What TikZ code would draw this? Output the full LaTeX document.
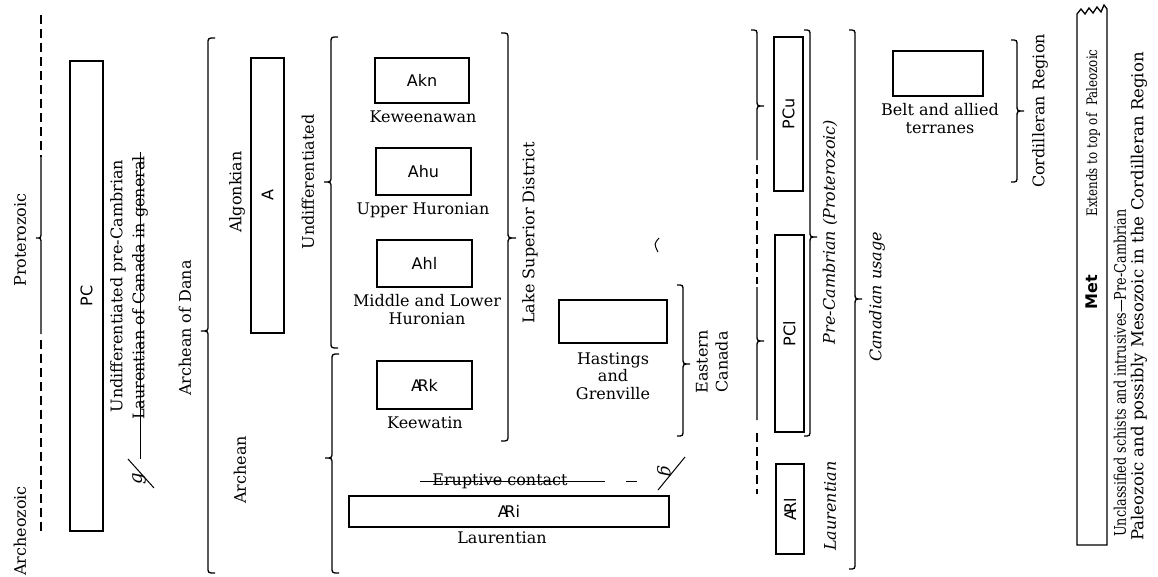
\documentclass[tikz,border=0pt]{standalone}
\usepackage{fontspec}
\setmainfont{DejaVu Serif}
\newfontfamily\labfont{DejaVu Sans}
\newcommand\AR{A\kern-0.28em R}
% brace: x, top y, tip y, bottom y, top hook, bottom hook, tip depth (signed, + = left)
\newcommand\mybrace[7]{%
  \draw[bl] ({#1+(#5)},#2) .. controls (#1,#2) .. (#1,{#2+6}) -- (#1,{#3-6})
    .. controls (#1,#3) .. ({#1-(#7)},#3) .. controls (#1,#3) .. (#1,{#3+6})
    -- (#1,{#4-6}) .. controls (#1,#4) .. ({#1+(#6)},#4);}
\begin{document}
\begin{tikzpicture}[x=1pt,y=-1pt,
  txt/.style={inner sep=0pt, font=\fontsize{16}{18}\selectfont},
  vtxt/.style={txt, rotate=90},
  itxt/.style={inner sep=0pt, rotate=90, font=\fontsize{16}{18}\selectfont\itshape},
  box/.style={draw, line width=1.3pt, inner sep=0pt},
  lab/.style={inner sep=0pt, font=\labfont\fontsize{16}{17}\selectfont},
  bl/.style={line width=1.3pt},
  dl/.style={line width=1.3pt, dash pattern=on 9pt off 5pt},
  strike/.style={line width=1pt},
]
\useasboundingbox (0,0) rectangle (1158,576);
% ---------------- column 1
\node[vtxt] (prot) at (20,240) {Proterozoic};
\node[vtxt] (archz) at (20,531) {Archeozoic};
\draw[dl] (41,15) -- (41,157);
\mybrace{41}{157}{238}{334}{0}{0}{5}
\draw[dl] (41,340) -- (41,531);
\node[box, minimum width=33pt, minimum height=470pt] (pc) at (86.5,296) {};
\node[lab, rotate=90] at (pc.center) {PC};
\node[vtxt] (upc) at (118,286) {Undifferentiated pre-Cambrian};
\node[vtxt] (lcg) at (140,288) {Laurentian of Canada in general};
\coordinate (lcgA) at (140,152);
\coordinate (lcgB) at (140,459);
\draw[strike] (lcgA) -- (lcgB);
\node[inner sep=0pt, rotate=90, font=\fontsize{18}{18}\selectfont\itshape] (dele1) at (139,479) {g};
\coordinate (d1a) at (128,459);
\coordinate (d1b) at (154,488);
\draw[strike] (d1a) -- (d1b);
\node[vtxt] (dana) at (185,328) {Archean of Dana};
\mybrace{208}{38}{331}{573}{7}{7}{7}
% ---------------- column 2
\node[vtxt] (algk) at (237,192) {Algonkian};
\node[box, minimum width=33pt, minimum height=275pt] (abox) at (267.5,195.5) {};
\node[lab, rotate=90] at (abox.center) {A};
\node[vtxt] (archn) at (240,470) {Archean};
\node[vtxt] (undif) at (308,182) {Undifferentiated};
\mybrace{331}{37}{182}{348}{7}{7}{7}
\mybrace{332}{354}{458}{573}{7}{7}{7}
% ---------------- Lake Superior
\node[box, minimum width=94pt, minimum height=45pt] (akn) at (422,80.5) {};
\node[lab] at (akn.center) {Akn};
\node[txt] (kew) at (423,117) {Keweenawan};
\node[box, minimum width=95pt, minimum height=47pt] (ahu) at (423.5,171.5) {};
\node[lab] at (ahu.center) {Ahu};
\node[txt] (uhur) at (423,210) {Upper Huronian};
\node[box, minimum width=95pt, minimum height=47pt] (ahl) at (424.5,263.5) {};
\node[lab] at (ahl.center) {Ahl};
\node[txt, align=center] (mlh) at (427,310) {Middle and Lower\\Huronian};
\node[box, minimum width=95pt, minimum height=48pt] (ark) at (424.5,385) {};
\node[lab] at (ark.center) {\AR k};
\node[txt] (keew) at (425,423) {Keewatin};
\mybrace{508}{33}{238}{441}{-7}{-7}{-8}
\node[vtxt] (lsd) at (530,233) {Lake Superior District};
% ---------------- Eastern Canada
\node[box, minimum width=108pt, minimum height=43pt] (hast) at (613,321.5) {};
\node[txt, align=center, font=\fontsize{16}{17.5}\selectfont] (hg) at (613,376) {Hastings\\and\\Grenville};
\mybrace{683}{285}{364}{436}{-6}{-6}{-7}
\node[vtxt, align=center, font=\fontsize{16}{20}\selectfont] (ec) at (712,362) {Eastern\\Canada};
\draw[line width=1pt] (659,238) .. controls (654,244) .. (658,252);
% ---------------- Laurentian
\node[txt] (erup) at (500,481) {Eruptive contact};
\coordinate (erA) at (420,481);
\coordinate (erB) at (605,481);
\coordinate (erC) at (626,481);
\coordinate (erD) at (637,481);
\draw[strike] (erA) -- (erB);
\draw[strike] (erC) -- (erD);
\node[inner sep=0pt, rotate=-90, font=\fontsize{18}{18}\selectfont\itshape] (dele2) at (664,471) {g};
\coordinate (d2a) at (658,490);
\coordinate (d2b) at (685,457);
\draw[strike] (d2a) -- (d2b);
\node[box, minimum width=320pt, minimum height=31pt] (ari) at (509,511.5) {};
\node[lab] at (ari.center) {\AR i};
\node[txt] (laur) at (502,538) {Laurentian};
% ---------------- Canadian usage
\mybrace{757}{30}{106}{160}{-6}{0}{-7}
\draw[dl] (757,165) -- (757,284);
\mybrace{757}{287}{341}{420}{0}{0}{-7}
\draw[dl] (757,433) -- (757,494);
\node[box, minimum width=29pt, minimum height=154pt] (pcu) at (788.5,114) {};
\node[lab, rotate=90] at (pcu.center) {PCu};
\node[box, minimum width=29pt, minimum height=197pt] (pcl) at (789.5,333.5) {};
\node[lab, rotate=90] at (pcl.center) {PCl};
\node[box, minimum width=28pt, minimum height=90pt] (arl) at (790,509) {};
\node[lab, rotate=90] at (arl.center) {\AR l};
\mybrace{810}{30}{237}{436}{-6}{-6}{-7}
\node[itxt] (pcp) at (830,232) {Pre-Cambrian (Proterozoic)};
\node[itxt] (laur2) at (830,506) {Laurentian};
\mybrace{855}{30}{299}{569}{-6}{-6}{-7}
\node[itxt] (canu) at (877,297) {Canadian usage};
% ---------------- Cordilleran
\node[box, minimum width=90pt, minimum height=45pt] (belt) at (938,73.5) {};
\node[txt, align=center] (belttxt) at (940,119) {Belt and allied\\terranes};
\mybrace{1017}{40}{111}{182}{-6}{-6}{-7}
\node[vtxt] (cord) at (1040,111) {Cordilleran Region};
% ---------------- Met
\draw[line width=1.3pt] (1077,14) -- (1081,9) -- (1085,14) -- (1089,8) -- (1093,13) -- (1097,7)
  -- (1101,12) -- (1104,5) -- (1107,9) -- (1107,545) -- (1077,545) -- cycle;
\coordinate (metc) at (1092,292);
\node[lab, rotate=90, font=\labfont\bfseries\fontsize{16}{17}\selectfont] (met) at (metc) {Met};
\node[vtxt, font=\fontsize{14.5}{15}\selectfont] (ext) at (1093,133) {\scalebox{0.82}[1]{Extends to top of\ \ Paleozoic}};
\node[vtxt, anchor=west, font=\fontsize{16}{17}\selectfont] (unc1) at (1120,537) {\scalebox{0.8}[1]{Unclassified schists and intrusives---Pre-Cambrian}};
\node[vtxt, anchor=west, font=\fontsize{16.5}{18}\selectfont] (unc2) at (1139,541) {Paleozoic and possibly Mesozoic in the Cordilleran Region};
\end{tikzpicture}
\end{document}
